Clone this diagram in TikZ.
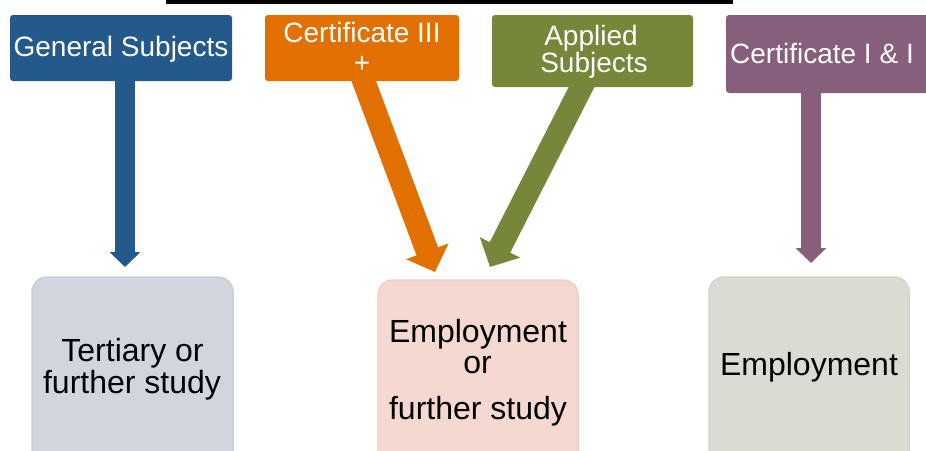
\documentclass[tikz,border=0pt]{standalone}
\usepackage{fontspec}
\setmainfont{Liberation Sans}
\usetikzlibrary{arrows.meta,backgrounds}
\definecolor{cblue}{RGB}{35,89,139}
\definecolor{corange}{RGB}{226,112,0}
\definecolor{cgreen}{RGB}{118,135,58}
\definecolor{cpurple}{RGB}{135,95,125}
\definecolor{fblue}{RGB}{208,213,222}
\definecolor{dblue}{RGB}{200,205,216}
\definecolor{fpink}{RGB}{245,216,208}
\definecolor{dpink}{RGB}{242,206,196}
\definecolor{fgreen}{RGB}{217,220,211}
\definecolor{dgreen}{RGB}{208,212,201}
\begin{document}
\begin{tikzpicture}[x=1pt,y=-1pt,
  topbox/.style={rectangle, rounded corners=3pt, inner sep=0pt, draw=none},
  botbox/.style={rectangle, rounded corners=15pt, inner sep=0pt, line width=1.5pt},
  toptext/.style={text=white, font=\fontsize{28}{30}\selectfont, anchor=base, inner sep=0pt},
  bottext/.style={text=black, font=\fontsize{32}{34}\selectfont, anchor=base, inner sep=0pt},
  thinarrow/.style={line width=20pt, -{Triangle[width=30pt,length=15pt]}},
  widearrow/.style={line width=23pt, -{Triangle[width=44pt,length=22pt]}}]
\useasboundingbox (0,0) rectangle (926,450);
\clip (0,0) rectangle (926,450);
\fill[black] (166,0) rectangle (733,4);
% top boxes
\node[topbox, fill=cblue, minimum width=222pt, minimum height=66pt] (gen) at (121,48) {};
\node[topbox, fill=corange, minimum width=194pt, minimum height=66pt] (cert3) at (362,48) {};
\node[topbox, fill=cgreen, minimum width=201pt, minimum height=72pt] (appl) at (592.5,51) {};
\node[topbox, fill=cpurple, minimum width=204pt, minimum height=78pt] (cert12) at (828,54) {};
% bottom boxes
\node[botbox, fill=fblue, draw=dblue, minimum width=201pt, minimum height=193pt] (tert) at (132.5,373.5) {};
\node[botbox, fill=fpink, draw=dpink, minimum width=200pt, minimum height=190pt] (emp2) at (478,375) {};
\node[botbox, fill=fgreen, draw=dgreen, minimum width=200pt, minimum height=193pt] (emp3) at (809,373.5) {};
% arrow tips
\coordinate (btip) at (125,267);
\coordinate (otip) at (435,272);
\coordinate (gtip) at (490,267);
\coordinate (ptip) at (811,263);
\begin{scope}[on background layer]
\draw[thinarrow, cblue] ([xshift=4pt,yshift=11pt]gen.south) -- (btip);
\draw[widearrow, corange] ([xshift=-2.3pt,yshift=11pt]cert3.south) -- (otip);
\draw[widearrow, cgreen] ([xshift=-4.9pt,yshift=12pt]appl.south) -- (gtip);
\draw[thinarrow, cpurple] ([xshift=-17pt,yshift=13pt]cert12.south) -- (ptip);
\end{scope}
% texts
\node[toptext] (tgen) at (121,56) {General Subjects};
\node[toptext] (tc3a) at (362,42) {Certificate III};
\node[toptext] (tc3b) at (362,72) {+};
\node[toptext] (tapa) at (591,45) {Applied};
\node[toptext] (tapb) at (594,72) {Subjects};
\node[toptext, anchor=base west] (tc12) at (730,63) {Certificate I \& I};
\node[bottext] (tt1) at (132.5,361) {Tertiary or};
\node[bottext] (tt2) at (132,393) {further study};
\node[bottext] (te1) at (478,342) {Employment};
\node[bottext] (te2) at (477.5,373) {or};
\node[bottext] (te3) at (478,419) {further study};
\node[bottext] (te4) at (809,375) {Employment};
\end{tikzpicture}
\end{document}
